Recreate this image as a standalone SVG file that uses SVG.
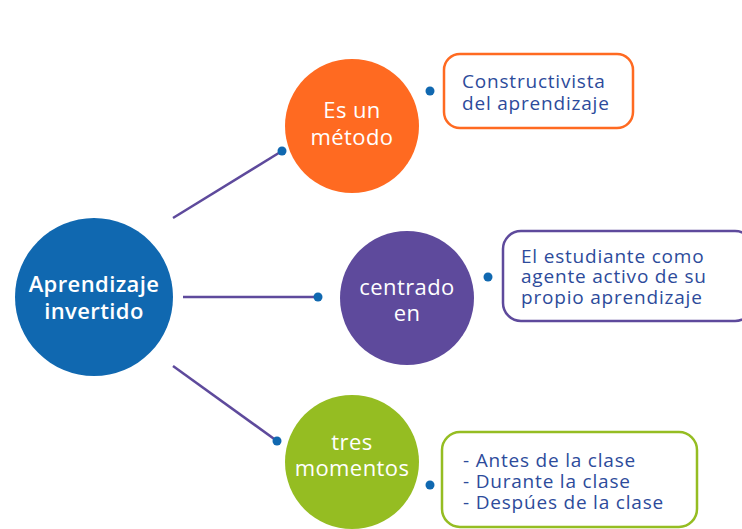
<svg xmlns="http://www.w3.org/2000/svg" width="742" height="529" viewBox="0 0 742 529">
<style>
.ct{font-family:"Open Sans","Liberation Sans",sans-serif;fill:#fff;text-anchor:middle;font-size:22px;letter-spacing:0.4px}
.bt{font-family:"Open Sans","Liberation Sans",sans-serif;fill:#2d4b9b;font-size:19px;letter-spacing:0.8px}
.ln{stroke:#5e4a9c;stroke-width:2.5;fill:none}
.dot{fill:#1068b0}
.box{fill:#fff;stroke-width:2.5}
</style>
<rect width="742" height="529" fill="#fff"/>
<g id="connectors">
<line class="ln" x1="173" y1="218" x2="282" y2="151"/>
<line class="ln" x1="183" y1="297" x2="318" y2="297"/>
<line class="ln" x1="173" y1="366" x2="277" y2="441"/>
<circle class="dot" cx="282" cy="151" r="4.5"/>
<circle class="dot" cx="318" cy="297" r="4.5"/>
<circle class="dot" cx="277" cy="441" r="4.5"/>
<circle class="dot" cx="430" cy="91" r="4.5"/>
<circle class="dot" cx="488" cy="277" r="4.5"/>
<circle class="dot" cx="430" cy="485" r="4.5"/>
</g>
<g id="main">
<circle cx="94" cy="297" r="79" fill="#1068b0"/>
<text class="ct" x="94" y="292" font-weight="600">Aprendizaje</text>
<text class="ct" x="94" y="319" font-weight="600">invertido</text>
</g>
<g id="metodo">
<circle cx="352" cy="126" r="67" fill="#ff6a21"/>
<text class="ct" x="352" y="118">Es un</text>
<text class="ct" x="352" y="145">método</text>
</g>
<g id="centrado">
<circle cx="407" cy="298" r="67" fill="#5e4a9c"/>
<text class="ct" x="407" y="295">centrado</text>
<text class="ct" x="407" y="321">en</text>
</g>
<g id="tres">
<circle cx="352" cy="462" r="67" fill="#95bd22"/>
<text class="ct" x="352" y="450">tres</text>
<text class="ct" x="352" y="476">momentos</text>
</g>
<g id="box-constructivista">
<rect class="box" x="444" y="54" width="189" height="74" rx="16" stroke="#ff6a21"/>
<text class="bt" x="462" y="88">Constructivista</text>
<text class="bt" x="462" y="110">del aprendizaje</text>
</g>
<g id="box-estudiante">
<rect class="box" x="503" y="231" width="250" height="90" rx="18" stroke="#5e4a9c"/>
<text class="bt" x="521" y="262.5">El estudiante como</text>
<text class="bt" x="521" y="283.3">agente activo de su</text>
<text class="bt" x="521" y="304">propio aprendizaje</text>
</g>
<g id="box-momentos">
<rect class="box" x="442" y="432" width="255" height="95" rx="18" stroke="#95bd22"/>
<text class="bt" x="463" y="466.7">- Antes de la clase</text>
<text class="bt" x="463" y="487.8">- Durante la clase</text>
<text class="bt" x="463" y="509">- Despúes de la clase</text>
</g>
</svg>
